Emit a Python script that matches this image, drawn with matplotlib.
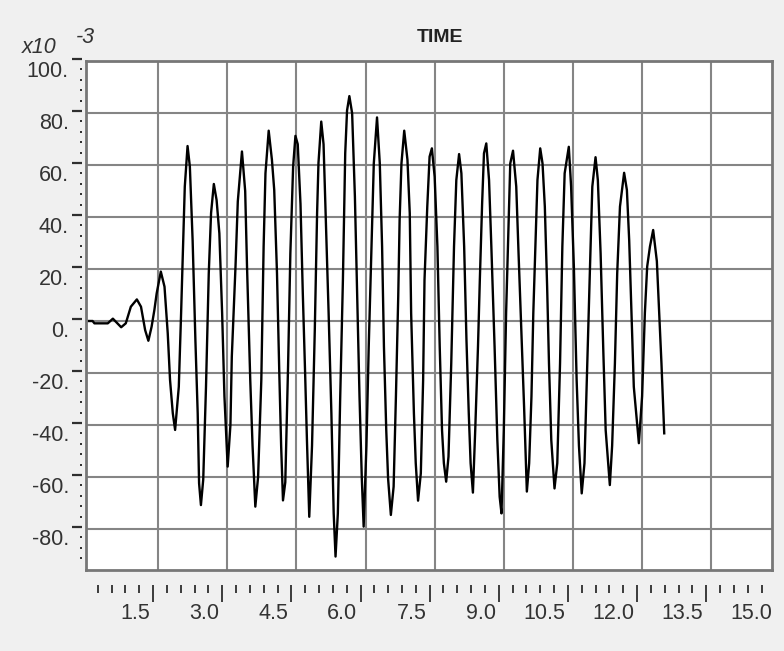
import matplotlib.pyplot as plt
import matplotlib.transforms as mtransforms

plt.rcParams['font.family'] = ['Liberation Sans', 'DejaVu Sans']

# signal (values are x10^-3)
time = [0.00, 0.08, 0.12, 0.41, 0.52, 0.70, 0.80, 0.91, 1.04, 1.13,
        1.22, 1.29, 1.36, 1.42, 1.47, 1.56, 1.64, 1.71, 1.76, 1.82,
        1.87, 1.95, 2.00, 2.05, 2.08, 2.14, 2.19, 2.25, 2.31, 2.36,
        2.39, 2.43, 2.48, 2.54, 2.60, 2.65, 2.71, 2.77, 2.83, 2.89,
        2.94, 3.01, 3.07, 3.10, 3.18, 3.23, 3.32, 3.39, 3.43, 3.50,
        3.55, 3.61, 3.67, 3.74, 3.79, 3.83, 3.90, 3.97, 4.02, 4.08,
        4.13, 4.17, 4.21, 4.26, 4.32, 4.37, 4.43, 4.48, 4.53, 4.59,
        4.64, 4.69, 4.73, 4.78, 4.84, 4.90, 4.95, 4.98, 5.04, 5.09,
        5.14, 5.20, 5.26, 5.31, 5.35, 5.40, 5.45, 5.51, 5.56, 5.60,
        5.65, 5.71, 5.77, 5.82, 5.87, 5.92, 5.96, 6.02, 6.07, 6.13,
        6.18, 6.25, 6.31, 6.36, 6.40, 6.45, 6.49, 6.55, 6.61, 6.66,
        6.71, 6.74, 6.78, 6.84, 6.91, 6.96, 6.99, 7.05, 7.09, 7.14,
        7.20, 7.25, 7.28, 7.34, 7.39, 7.44, 7.50, 7.56, 7.61, 7.66,
        7.70, 7.75, 7.80, 7.86, 7.92, 7.97, 8.03, 8.08, 8.14, 8.19,
        8.24, 8.28, 8.33, 8.38, 8.44, 8.48, 8.53, 8.57, 8.62, 8.68,
        8.73, 8.80, 8.86, 8.91, 8.95, 9.00, 9.05, 9.11, 9.14, 9.20,
        9.27, 9.32, 9.38, 9.44, 9.50, 9.55, 9.60, 9.64, 9.69, 9.73,
        9.79, 9.84, 9.89, 9.94, 9.98, 10.03, 10.10, 10.16, 10.22, 10.27,
        10.32, 10.41, 10.46, 10.52, 10.58, 10.63, 10.69, 10.75, 10.81, 10.87,
        10.92, 10.99, 11.04, 11.10, 11.16, 11.21, 11.30, 11.35, 11.41, 11.46,
        11.52, 11.61, 11.67, 11.72, 11.77, 11.82, 11.93, 12.00, 12.06, 12.11,
        12.17, 12.24, 12.32, 12.37, 12.42, 12.48]
accel = [0.0, 0.0, -0.9, -0.9, 0.9, -2.4, -0.9, 5.5, 8.3, 5.5,
         -3.5, -7.6, -2.2, 4.2, 10.6, 19.0, 13.2, -4.7, -22.7, -35.5,
         -41.9, -25.3, 3.0, 33.8, 51.7, 67.3, 59.4, 31.0, -7.3, -35.5,
         -62.4, -70.8, -61.0, -25.3, 18.3, 41.5, 52.7, 46.5, 33.7, 3.0,
         -29.0, -56.0, -40.0, -13.7, 20.9, 46.0, 65.2, 50.0, 20.9, -22.7,
         -48.0, -71.4, -60.0, -22.7, 28.6, 56.8, 73.2, 62.0, 50.4, 18.4,
         -20.0, -48.0, -69.0, -62.0, -17.6, 26.0, 59.4, 71.2, 68.0, 45.0,
         10.6, -20.0, -46.0, -75.3, -48.0, -3.5, 41.5, 60.8, 76.7, 68.0,
         38.8, 3.0, -35.5, -74.0, -90.6, -74.0, -30.4, 15.8, 64.5, 81.0,
         86.5, 79.9, 47.8, 9.4, -29.0, -60.6, -79.1, -48.0, -9.9, 28.6,
         60.6, 78.3, 60.6, 28.6, -9.9, -42.0, -60.6, -74.6, -63.7, -29.0,
         9.4, 38.8, 60.6, 73.2, 62.0, 41.5, 3.0, -35.5, -54.7, -69.1,
         -58.6, -22.7, 15.8, 44.0, 63.2, 66.4, 55.5, 28.6, -9.9, -42.0,
         -54.7, -61.8, -52.2, -16.3, 28.6, 54.2, 64.2, 56.8, 28.6, -7.3,
         -35.5, -54.7, -66.0, -42.0, -9.9, 15.8, 45.3, 64.5, 68.3, 54.2,
         28.6, -9.9, -45.8, -67.6, -74.0, -42.0, 3.0, 41.5, 60.6, 65.5,
         51.7, 26.0, -3.5, -33.0, -65.6, -54.7, -29.0, 3.0, 31.0, 54.2,
         66.4, 60.6, 44.0, 13.2, -16.3, -45.8, -64.4, -54.7, -16.3, 28.6,
         56.8, 67.0, 51.7, 20.9, -22.7, -48.0, -66.3, -54.7, -16.3, 20.9,
         51.7, 63.0, 54.2, 26.0, -12.4, -42.0, -63.1, -48.0, -16.3, 18.4,
         44.0, 57.0, 50.4, 31.0, 3.0, -25.3, -47.0, -29.0, 3.0, 20.9,
         28.6, 35.0, 23.0, 3.0, -16.3, -43.2]

x_ticks = [1.5, 3.0, 4.5, 6.0, 7.5, 9.0, 10.5, 12.0, 13.5, 15.0]
x_labels = ['1.5', '3.0', '4.5', '6.0', '7.5', '9.0', '10.5', '12.0', '13.5', '15.0']
y_ticks = [-80, -60, -40, -20, 0, 20, 40, 60, 80, 100]
y_labels = ['-80.', '-60.', '-40.', '-20.', '0.', '20.', '40.', '60.', '80.', '100.']

W, H = 784, 651
fig = plt.figure(figsize=(W / 100, H / 100), dpi=100, facecolor='#f0f0f0')


def box(l, t, r, b):
    return [l / W, 1 - b / H, (r - l) / W, (b - t) / H]


# pixel scale of the plot
PX, X0 = 46.1, 88.9
PY, Y0 = 2.6, 321.0
ylo, yhi = -(570 - Y0) / PY, (Y0 - 61) / PY

ax = fig.add_axes(box(86, 61, 772, 570))
ax.set_facecolor('white')
ax.set_xlim((86 - X0) / PX, (772 - X0) / PX)
ax.set_ylim(ylo, yhi)
ax.set_xticks(x_ticks[:-1])
ax.set_yticks(y_ticks[:-1])
ax.tick_params(length=0, labelbottom=False, labelleft=False)
ax.grid(color='#858585', lw=1.5)
ax.set_axisbelow(True)
for s in ax.spines.values():
    s.set_color('#777777')
    s.set_linewidth(2.0)
ax.plot(time, accel, color='black', lw=1.7, solid_joinstyle='round')

tick_col = '#2e2e2e'
txt_col = '#333333'

# x ruler, slightly below and left of the plot
axr = fig.add_axes(box(81, 584, 781, 585))
axr.patch.set_alpha(0)
for s in axr.spines.values():
    s.set_visible(False)
axr.set_yticks([])
axr.set_xlim((81 - X0 + 5) / PX, (781 - X0 + 5) / PX)
axr.set_xticks(x_ticks, x_labels, ha='right')
axr.set_xticks([0.3 * k for k in range(1, 50) if k % 5], minor=True)
axr.tick_params(which='major', direction='out', length=12.2, width=1.3,
                color=tick_col, pad=0.5, labelsize=15.5, labelcolor=txt_col)
axr.tick_params(which='minor', direction='out', length=5.8, width=1.3, color=tick_col)
axr.xaxis.get_major_ticks()[-1].tick1line.set_visible(False)
shift_x = mtransforms.ScaledTranslation(-3 / 100, 0, fig.dpi_scale_trans)
for lab in axr.get_xticklabels():
    lab.set_transform(lab.get_transform() + shift_x)

# y ruler, slightly left of and above the plot
ayr = fig.add_axes(box(82, 59, 83, 568))
ayr.patch.set_alpha(0)
for s in ayr.spines.values():
    s.set_visible(False)
ayr.set_xticks([])
ayr.set_ylim(ylo, yhi)
ayr.set_yticks(y_ticks, y_labels, va='top')
ayr.set_yticks([4 * k for k in range(-23, 25) if k % 5], minor=True)
ayr.tick_params(which='major', direction='out', length=7.2, width=1.6,
                color=tick_col, pad=2.2, labelsize=15.5, labelcolor=txt_col)
ayr.tick_params(which='minor', direction='out', length=1.5, width=1.4, color=tick_col)
shift_y = mtransforms.ScaledTranslation(0, -2 / 100, fig.dpi_scale_trans)
for lab in ayr.get_yticklabels():
    lab.set_transform(lab.get_transform() + shift_y)

fig.text(22 / W, 1 - 53 / H, 'x10', style='italic', fontsize=15.5, color=txt_col, va='baseline')
fig.text(76 / W, 1 - 43 / H, '-3', style='italic', fontsize=15.5, color=txt_col, va='baseline')
fig.text(440 / W, 1 - 37 / H, 'TIME', ha='center', va='center', weight='bold',
         fontsize=14, color='#222222')

fig.savefig('out.png', dpi=100, facecolor=fig.get_facecolor())
